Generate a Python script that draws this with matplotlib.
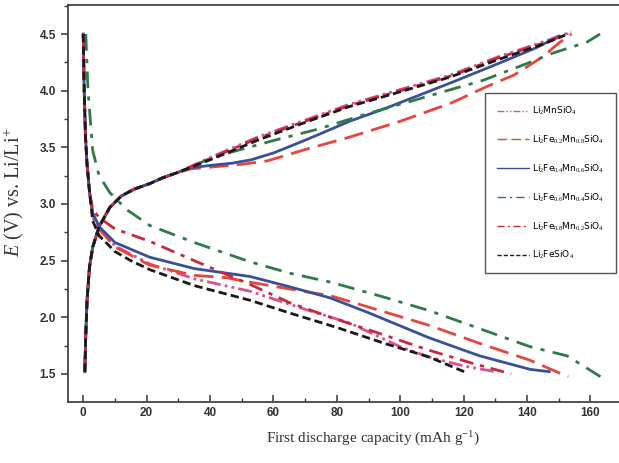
import numpy as np
import matplotlib
matplotlib.use('Agg')
import matplotlib.pyplot as plt
from matplotlib.ticker import MultipleLocator

plt.rcParams['mathtext.fontset'] = 'custom'
plt.rcParams['mathtext.rm'] = 'Liberation Serif'
plt.rcParams['mathtext.it'] = 'Liberation Serif:italic'

# --- data (capacity in mAh/g, potential in V) ---
labels = [r'Li$_2$MnSiO$_4$',
          r'Li$_2$Fe$_{0.2}$Mn$_{0.8}$SiO$_4$',
          r'Li$_2$Fe$_{0.4}$Mn$_{0.6}$SiO$_4$',
          r'Li$_2$Fe$_{0.6}$Mn$_{0.4}$SiO$_4$',
          r'Li$_2$Fe$_{0.8}$Mn$_{0.2}$SiO$_4$',
          r'Li$_2$FeSiO$_4$']

# steep start of the discharge curves (shared)
dis_start_x = [0, 0.3, 0.7, 1.2, 2.0]
dis_start_y = [4.5, 4.0, 3.6, 3.35, 3.1]
# steep start of the charge curves (shared)
chg_start_x = [0.5, 0.8, 1.2, 2.0, 3.0, 5.0, 8.4, 12, 16, 21, 25, 30]
chg_start_y = [1.52, 1.85, 2.15, 2.45, 2.62, 2.80, 2.97, 3.07, 3.13, 3.18, 3.23, 3.28]

# Li2MnSiO4
mn_dis_x = [3, 5, 10, 21, 35, 52.6, 70, 84, 100, 109, 120, 130]
mn_dis_y = [2.88, 2.78, 2.63, 2.47, 2.34, 2.23, 2.07, 1.95, 1.74, 1.65, 1.57, 1.52]
mn_chg_x = [40, 55, 70, 84, 100, 116, 131, 145, 154]
mn_chg_y = [3.41, 3.59, 3.74, 3.88, 4.01, 4.14, 4.30, 4.43, 4.52]

# Li2Fe0.2Mn0.8SiO4
fe2_dis_x = [3, 5, 10, 21, 35, 45, 52.6, 65, 78, 90, 109, 125, 141, 153]
fe2_dis_y = [2.90, 2.78, 2.62, 2.46, 2.37, 2.35, 2.31, 2.25, 2.19, 2.09, 1.93, 1.77, 1.62, 1.475]
fe2_chg_x = [34, 42, 50, 58, 70, 84, 100, 116, 126, 136, 145, 150, 154]
fe2_chg_y = [3.31, 3.33, 3.35, 3.38, 3.48, 3.59, 3.73, 3.89, 4.02, 4.14, 4.30, 4.42, 4.50]

# Li2Fe0.4Mn0.6SiO4
fe4_dis_x = [3, 5, 10, 21, 35, 45, 52.6, 65, 78, 90, 109, 125, 141, 147]
fe4_dis_y = [2.92, 2.80, 2.66, 2.53, 2.43, 2.39, 2.36, 2.27, 2.17, 2.04, 1.82, 1.66, 1.54, 1.52]
fe4_chg_x = [34, 40, 47, 53, 60, 68, 74, 84, 95, 116, 131, 143, 150]
fe4_chg_y = [3.32, 3.34, 3.36, 3.39, 3.45, 3.54, 3.61, 3.73, 3.84, 4.07, 4.24, 4.38, 4.48]

# Li2Fe0.6Mn0.4SiO4
fe6_dis_x = [0.8, 1.5, 3, 5, 8.4, 13.7, 21, 35, 52.6, 65, 78, 94.6, 109, 126, 141, 152.6, 163.5]
fe6_dis_y = [4.5, 4.0, 3.47, 3.25, 3.10, 2.95, 2.81, 2.66, 2.49, 2.39, 2.31, 2.18, 2.06, 1.89, 1.74, 1.66, 1.47]
fe6_chg_x = [40, 47, 60, 74, 90, 105, 116, 126, 140, 148, 159, 163]
fe6_chg_y = [3.40, 3.46, 3.56, 3.66, 3.80, 3.92, 4.01, 4.09, 4.24, 4.33, 4.43, 4.50]

# Li2Fe0.8Mn0.2SiO4
fe8_dis_x = [3, 5, 10, 21, 35, 52.6, 65, 78, 90, 109, 122, 135]
fe8_dis_y = [2.95, 2.88, 2.78, 2.67, 2.50, 2.29, 2.13, 2.00, 1.89, 1.71, 1.60, 1.50]
fe8_chg_x = [40, 55, 70, 84, 100, 116, 131, 145, 153]
fe8_chg_y = [3.40, 3.58, 3.73, 3.87, 4.00, 4.13, 4.29, 4.42, 4.50]

# Li2FeSiO4
fe_dis_x = [3, 5, 10, 15, 21, 35, 52.6, 66, 80, 95, 109, 121]
fe_dis_y = [2.85, 2.72, 2.58, 2.50, 2.42, 2.28, 2.15, 2.03, 1.91, 1.77, 1.65, 1.51]
fe_chg_x = [40, 55.7, 70, 84, 100, 115.7, 131.5, 145, 152]
fe_chg_y = [3.39, 3.57, 3.72, 3.86, 3.99, 4.12, 4.28, 4.41, 4.49]

discharge = [(mn_dis_x, mn_dis_y), (fe2_dis_x, fe2_dis_y), (fe4_dis_x, fe4_dis_y),
             (fe6_dis_x, fe6_dis_y), (fe8_dis_x, fe8_dis_y), (fe_dis_x, fe_dis_y)]
charge = [(mn_chg_x, mn_chg_y), (fe2_chg_x, fe2_chg_y), (fe4_chg_x, fe4_chg_y),
          (fe6_chg_x, fe6_chg_y), (fe8_chg_x, fe8_chg_y), (fe_chg_x, fe_chg_y)]
shared_start = [True, True, True, False, True, True]

colors = ['#dc5090', '#e8453c', '#3a4f9c', '#2f7a48', '#c8283e', '#1a1a1a']
styles = [(0, (5, 1.5, 1, 1.5, 1, 1.5)), (0, (7, 3)), '-',
          (0, (6, 3, 1.5, 3)), (0, (5, 2.5, 1.5, 2.5)), (0, (3, 1.5))]

fig = plt.figure(figsize=(6.19, 4.63), dpi=100)
ax = fig.add_axes([0.1099, 0.1324, 0.8901, 0.8568])

for i in range(len(labels)):
    dx, dy = discharge[i]
    if shared_start[i]:
        dx = dis_start_x + dx
        dy = dis_start_y + dy
    cx = chg_start_x + charge[i][0]
    cy = chg_start_y + charge[i][1]
    ax.plot(dx, dy, color=colors[i], ls=styles[i], lw=2.0, label=labels[i])
    ax.plot(cx, cy, color=colors[i], ls=styles[i], lw=2.0)

ax.set_xlim(-4.8, 169)
ax.set_ylim(1.255, 4.756)
ax.xaxis.set_major_locator(MultipleLocator(20))
ax.xaxis.set_minor_locator(MultipleLocator(10))
ax.yaxis.set_major_locator(MultipleLocator(0.5))
ax.yaxis.set_minor_locator(MultipleLocator(0.25))
ax.set_yticks([1.5, 2.0, 2.5, 3.0, 3.5, 4.0, 4.5])
ax.set_yticklabels(['1.5', '2.0', '2.5', '3.0', '3.5', '4.0', '4.5'])
ax.tick_params(axis='x', which='both', direction='in', top=False)
ax.tick_params(axis='y', which='both', direction='out', right=False)
ax.tick_params(which='major', length=5, width=1.1, color='#333333')
ax.tick_params(which='minor', length=3, width=1.0, color='#333333')
for lab in ax.get_xticklabels() + ax.get_yticklabels():
    lab.set_fontfamily('Liberation Sans')
    lab.set_fontweight('bold')
    lab.set_fontsize(8.5)
    lab.set_color('#333333')
for s in ['left', 'bottom', 'top']:
    ax.spines[s].set_color('#444444')
    ax.spines[s].set_linewidth(1.3)
ax.spines['right'].set_visible(False)

ax.set_xlabel(r'First discharge capacity (mAh g$^{-1}$)', fontfamily='Liberation Serif',
              fontsize=11, color='#333333')
ax.set_ylabel(r'$E$ (V) vs. Li/Li$^{+}$', fontfamily='Liberation Serif',
              fontsize=14.5, color='#333333')
ax.xaxis.set_label_coords((373 - 68) / 551, -0.07)
ax.yaxis.set_label_coords(-(68 - 26) / 551, (402 - 192) / 397)

leg = ax.legend(loc='upper left', bbox_to_anchor=(485 / 619, 1 - 93 / 463),
                bbox_transform=fig.transFigure, borderaxespad=0, fontsize=6.5,
                handlelength=3.6, labelspacing=1.85, handletextpad=0.3,
                borderpad=1.3, fancybox=False, framealpha=1, edgecolor='#555555')
leg.get_frame().set_linewidth(1.0)
for line in leg.get_lines():
    line.set_linewidth(1.0)

fig.savefig('out.png', dpi=100)
